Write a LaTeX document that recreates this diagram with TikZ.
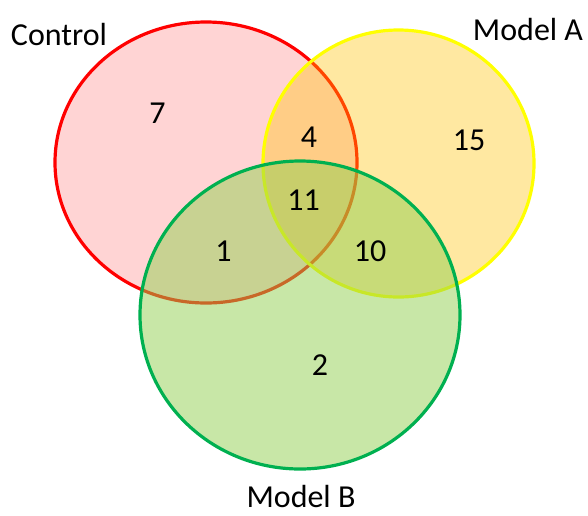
\documentclass[tikz,border=0pt]{standalone}
\usepackage{fontspec}
\setmainfont{Carlito}
\usetikzlibrary{shapes.geometric}

\definecolor{ctrlred}{RGB}{255,0,0}
\definecolor{modelagold}{RGB}{255,192,0}
\definecolor{modelayellow}{RGB}{255,255,0}
\definecolor{modelbgreen}{RGB}{146,208,80}
\definecolor{modelbline}{RGB}{0,176,80}

\begin{document}
\begin{tikzpicture}[
        x=1pt, y=-1pt,
        set/.style={
            ellipse,
            line width=3.2pt,
            inner sep=0pt,
            outer sep=0pt
        },
        count/.style={
            font=\fontsize{32}{38}\selectfont
        },
        setname/.style={
            anchor=base,
            inner sep=0.5pt,
            font=\fontsize{32}{38}\selectfont
        }
    ]
        \useasboundingbox (0,0) rectangle (588,515);

        \node[set, draw=ctrlred, fill=ctrlred, fill opacity=0.17,
            minimum width=302, minimum height=281] (control) at (206,162.5) {};
        \node[set, draw=modelayellow, fill=modelagold, fill opacity=0.37,
            minimum width=271, minimum height=267] (modela) at (398.5,163.5) {};
        \node[set, draw=modelbline, fill=modelbgreen, fill opacity=0.5,
            minimum width=320, minimum height=308] (modelb) at (300,315) {};

        \node[setname] (controlname) at (59,45) {Control};
        \node[setname] (modelaname) at (528,40) {Model A};
        \node[setname] (modelbname) at (301,507.5) {Model B};

        \node[count] (onlyc) at (157.5,113) {7};
        \node[count] (ca) at (309,137.5) {4};
        \node[count] (onlya) at (469,140) {15};
        \node[count] (cab) at (303.5,200) {11};
        \node[count] (cb) at (223.5,251) {1};
        \node[count] (ab) at (370,251) {10};
        \node[count] (onlyb) at (320,365) {2};
    \end{tikzpicture}
\end{document}
